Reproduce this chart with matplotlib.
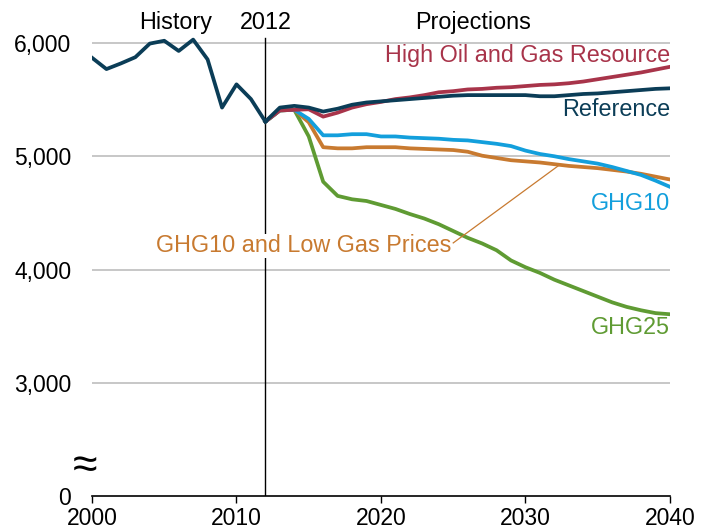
import matplotlib
matplotlib.use("Agg")
import matplotlib.pyplot as plt

plt.rcParams['font.family'] = ['Liberation Sans', 'DejaVu Sans']

hist_years = list(range(2000, 2013))
history = [5870, 5770, 5820, 5875, 5995, 6020, 5930, 6030, 5855, 5430, 5635, 5505, 5306]

proj_years = list(range(2012, 2041))
reference = [5306, 5430, 5445, 5430, 5395, 5420, 5455, 5475, 5485, 5495, 5505, 5515, 5525, 5535,
             5540, 5540, 5540, 5540, 5540, 5530, 5530, 5540, 5550, 5555, 5565, 5575, 5585, 5595, 5600]
high_oil_gas = [5306, 5405, 5410, 5415, 5350, 5385, 5430, 5460, 5480, 5505, 5520, 5540, 5565, 5575,
                5590, 5595, 5605, 5610, 5620, 5630, 5635, 5645, 5660, 5680, 5700, 5720, 5740, 5765, 5790]
ghg10 = [5306, 5405, 5410, 5330, 5185, 5185, 5195, 5195, 5175, 5175, 5165, 5160, 5155, 5145,
         5140, 5125, 5110, 5090, 5050, 5020, 5000, 4975, 4955, 4935, 4905, 4870, 4835, 4785, 4730]
ghg10_low_gas = [5306, 5405, 5410, 5300, 5080, 5070, 5070, 5080, 5080, 5080, 5070, 5065, 5060, 5055,
                 5040, 5005, 4985, 4965, 4955, 4945, 4930, 4915, 4905, 4895, 4880, 4865, 4845, 4820, 4795]
ghg25 = [5306, 5405, 5410, 5175, 4775, 4650, 4620, 4605, 4570, 4535, 4490, 4450, 4400, 4340,
         4280, 4230, 4170, 4080, 4020, 3970, 3910, 3860, 3810, 3760, 3710, 3670, 3640, 3615, 3605]

y_ticks = [2000, 3000, 4000, 5000, 6000]
y_tick_labels = ['0', '3,000', '4,000', '5,000', '6,000']
x_ticks = [2000, 2010, 2020, 2030, 2040]

navy = '#0b3d57'
red = '#a8344a'
blue = '#139fdc'
orange = '#c87a30'
green = '#5f9b33'

fig = plt.figure(figsize=(7.11, 5.31), dpi=100)
ax = fig.add_axes([0.1294, 0.0659, 0.8129, 0.8744])

for y in [3000, 4000, 5000, 6000]:
    ax.axhline(y, color='#bdbdbd', lw=1.2, zorder=0)

ax.plot([2012, 2012], [2000, 6040], color='black', lw=1.0, zorder=1)

lw = 2.7
ax.plot(proj_years, ghg25, color=green, lw=lw, zorder=2)
ax.plot(proj_years, ghg10_low_gas, color=orange, lw=lw, zorder=3)
ax.plot(proj_years, ghg10, color=blue, lw=lw, zorder=4)
ax.plot(proj_years, high_oil_gas, color=red, lw=lw, zorder=5)
ax.plot(proj_years, reference, color=navy, lw=lw, zorder=6)
ax.plot(hist_years, history, color=navy, lw=lw, zorder=6)

# leader line for the GHG10 and Low Gas Prices label
ax.plot([2025.0, 2032.25], [4235, 4914], color=orange, lw=0.9, zorder=7)

fs = 16.8
ax.text(2040, 5894, 'High Oil and Gas Resource', color=red, fontsize=fs, ha='right', va='center')
ax.text(2040, 5409, 'Reference', color=navy, fontsize=fs, ha='right', va='center')
ax.text(2040, 4579, 'GHG10', color=blue, fontsize=fs, ha='right', va='center')
ax.text(2024.9, 4208, 'GHG10 and Low Gas Prices', color=orange, fontsize=fs, ha='right', va='center',
        bbox=dict(facecolor='white', edgecolor='none', pad=0.5))
ax.text(2040, 3485, 'GHG25', color=green, fontsize=fs, ha='right', va='center')

ax.text(2005.8, 6185, 'History', fontsize=fs, ha='center', va='center', clip_on=False)
ax.text(2012.05, 6185, '2012', fontsize=fs, ha='center', va='center', clip_on=False)
ax.text(2026.4, 6185, 'Projections', fontsize=fs, ha='center', va='center', clip_on=False)
ax.text(1999.5, 2260, '≈', fontsize=32, ha='center', va='center', clip_on=False)

ax.set_xlim(2000, 2040)
ax.set_ylim(2000, 6100)
ax.set_yticks(y_ticks)
ax.set_yticklabels(y_tick_labels)
ax.set_xticks(x_ticks)
ax.tick_params(axis='y', length=0, pad=15, labelsize=16.5)
ax.tick_params(axis='x', length=5, width=1, direction='out', labelsize=16.5, pad=3)

for side in ['top', 'right', 'left']:
    ax.spines[side].set_visible(False)
ax.spines['bottom'].set_linewidth(1.2)

fig.savefig('out.png', dpi=100)
